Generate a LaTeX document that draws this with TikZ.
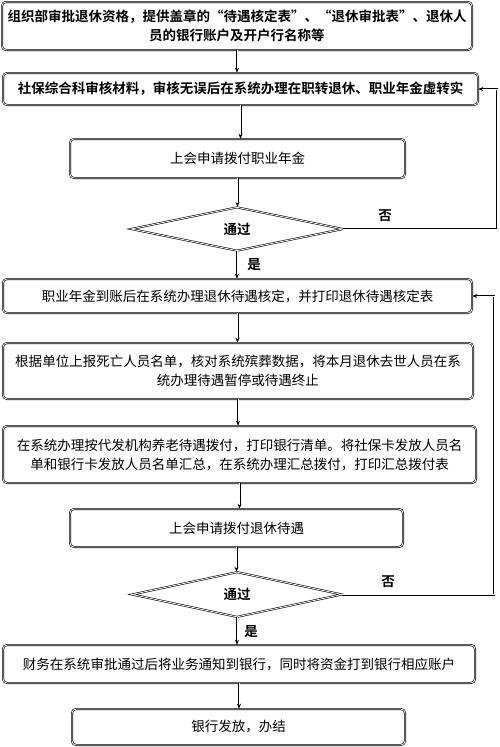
\documentclass[tikz,border=0pt]{standalone}
\usepackage{fontspec}
\setmainfont{Noto Sans CJK SC}[BoldFont={Noto Sans CJK SC Bold}]
\usetikzlibrary{shapes.geometric,arrows.meta}

\tikzset{
  line/.style={double, double distance=0.8pt, line width=0.6pt},
  box/.style={line, draw, rounded corners=4pt, align=center, inner sep=2pt,
    font=\fontsize{13.5}{19}\selectfont},
  boldbox/.style={box, font=\fontsize{13.5}{19}\selectfont\bfseries},
  choice/.style={line, draw, diamond, inner sep=1pt,
    font=\fontsize{13.5}{16}\selectfont\bfseries},
  lbl/.style={font=\fontsize{13.5}{16}\selectfont\bfseries},
  arrow/.style={line, -{Stealth[length=5pt,width=4pt]}},
}

\begin{document}
\begin{tikzpicture}[x=1pt, y=-1pt]
    \useasboundingbox (0,0) rectangle (500,747);

    % Boxes of the flow
    \node[boldbox, minimum width=470, minimum height=48] (b1) at (237,26)
        {组织部审批退休资格，提供盖章的“待遇核定表”、“退休审批表”、退休人\\员的银行账户及开户行名称等};
    \node[boldbox, minimum width=475, minimum height=32] (b2) at (240.5,89)
        {社保综合科审核材料，审核无误后在系统办理在职转退休、职业年金虚转实};
    \node[box, minimum width=335, minimum height=39] (b3) at (237.5,158.5) {上会申请拨付职业年金};
    \node[choice, minimum width=212, minimum height=43] (d1) at (237,229) {通过};
    \node[box, minimum width=469, minimum height=34] (b5) at (237.5,296)
        {职业年金到账后在系统办理退休待遇核定，并打印退休待遇核定表};
    \node[box, minimum width=470, minimum height=56] (b6) at (238,371)
        {根据单位上报死亡人员名单，核对系统殡葬数据，将本月退休去世人员在系\\统办理待遇暂停或待遇终止};
    \node[box, minimum width=473, minimum height=57] (b7) at (239.5,454.5)
        {在系统办理按代发机构养老待遇拨付，打印银行清单。将社保卡发放人员名\\单和银行卡发放人员名单汇总，在系统办理汇总拨付，打印汇总拨付表};
    \node[box, minimum width=333, minimum height=38] (b8) at (236.5,528) {上会申请拨付退休待遇};
    \node[choice, minimum width=210, minimum height=45] (d2) at (237,594.5) {通过};
    \node[box, minimum width=472, minimum height=38] (b10) at (239,664)
        {财务在系统审批通过后将业务通知到银行，同时将资金打到银行相应账户};
    \node[box, minimum width=333, minimum height=36] (b11) at (238.5,727) {银行发放，办结};

    % Main line downwards
    \foreach \a/\b in {b1/b2, b2/b3, b3/d1, d1/b5, b5/b6, b6/b7, b7/b8, b8/d2, d2/b10, b10/b11}
        \draw[arrow] (\a.south) -- (\a.south |- \b.north);

    % Loops back for "no"
    \coordinate (r1) at (497,0);
    \coordinate (r2) at (494,0);
    \draw[arrow] (d1.east) -- (d1.east -| r1) -- (r1 |- b2.east) -- (b2.east);
    \draw[arrow] (d2.east) -- (d2.east -| r2) -- (r2 |- b5.east) -- (b5.east);

    % Labels
    \node[lbl] (no1) at (385,216) {否};
    \node[lbl] (yes1) at (254,265) {是};
    \node[lbl] (no2) at (388,582) {否};
    \node[lbl] (yes2) at (251,632) {是};
\end{tikzpicture}
\end{document}
